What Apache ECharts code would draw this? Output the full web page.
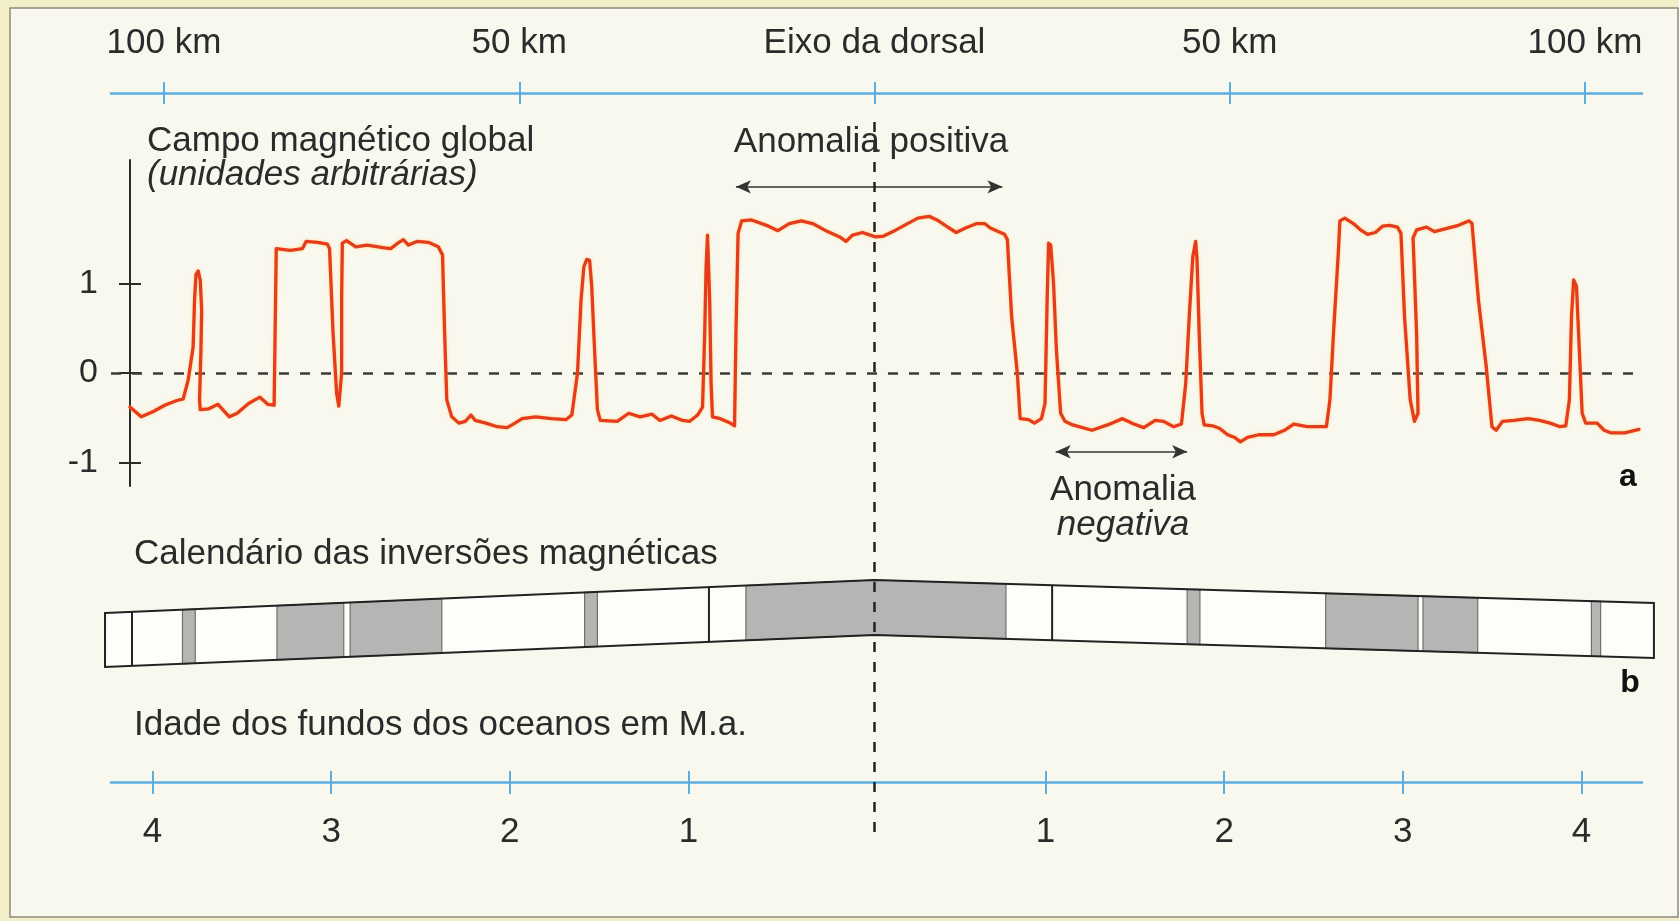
<!DOCTYPE html>
<html>
<head>
<meta charset="utf-8">
<title>Anomalias magnéticas da dorsal</title>
<script src="https://cdn.jsdelivr.net/npm/echarts@6.0.0/dist/echarts.min.js"></script>
<style>
  html, body { margin: 0; padding: 0; background: #f3f0c9; }
  #chart { width: 1679px; height: 921px; }
</style>
</head>
<body>
<div id="chart"></div>
<script>
// perfil do campo magnético: distância ao eixo (km) e valor (unidades arbitrárias)
const profileKm = [
  -104.8, -103.2, -101.5, -99.9, -98.3, -97.3, -96.6, -95.9, -95.7, -95.5, -95.2, -94.9, -94.7, -94.8, -95.0, -94.9,
  -93.7, -92.4, -90.8, -89.7, -88.1, -86.5, -85.4, -84.5,
  -84.2, -82.2, -80.5, -80.0, -78.4, -77.0, -76.7, -76.2, -75.7, -75.4, -75.0, -75.0, -74.9,
  -74.3, -73.0, -71.4, -69.2, -68.1, -67.1, -66.3, -65.6, -64.4, -62.8, -61.4, -60.8, -60.5, -60.2,
  -59.5, -58.5, -57.6, -56.8, -56.2, -54.7, -53.1, -51.7, -50.6, -49.6, -47.7, -45.5, -43.4, -42.6,
  -41.8, -41.3, -40.9, -40.5, -40.1, -39.8, -39.4, -39.0, -38.6,
  -36.2, -34.6, -33.0, -31.3, -30.2, -28.6, -27.0, -26.0, -24.9, -24.2,
  -23.9, -23.7, -23.5, -23.3, -23.2, -23.0, -22.8, -21.7, -20.3, -19.7,
  -19.5, -19.2, -18.7, -17.3, -15.2, -13.6, -12.0, -10.3, -8.7, -6.6, -4.9, -4.0, -3.1, -1.7, -0.6,
  0.2, 1.3, 2.6, 4.2, 6.1, 7.7, 8.8, 10.1, 11.5, 12.8, 14.4, 15.5, 16.3, 17.4, 18.3, 18.7,
  19.3, 20.1, 20.5, 21.7, 22.5, 23.5, 24.0, 24.3, 24.5, 24.8, 25.2, 25.6, 26.2, 26.8,
  27.9, 30.6, 32.8, 34.9, 36.5, 37.9, 39.5, 40.7, 42.1, 43.2,
  43.8, 44.3, 44.8, 45.2, 45.4, 45.7, 46.1, 46.4, 47.6, 48.6, 49.7, 50.7, 51.5, 52.5, 54.1, 56.2,
  57.7, 59.0, 60.9, 63.6, 64.1, 64.6, 65.3, 65.5, 66.2, 67.4, 68.4, 69.4, 70.5, 71.5, 72.5, 73.6,
  74.1, 74.6, 75.4, 76.0, 76.5, 76.3, 75.8, 76.3, 77.7, 78.8, 80.3, 82.2, 83.7, 84.1,
  85.0, 86.1, 86.9, 87.5, 88.4, 90.0, 92.0, 93.6, 95.1, 96.5, 97.3,
  97.8, 98.1, 98.4, 98.8, 99.2, 99.6, 100.1, 101.7, 102.7, 103.7, 105.6, 107.6
];
const profileVal = [
  -0.38, -0.49, -0.43, -0.36, -0.31, -0.29, -0.08, 0.29, 0.82, 1.10, 1.14, 1.04, 0.70, 0.26, -0.30, -0.41,
  -0.40, -0.35, -0.49, -0.45, -0.34, -0.27, -0.35, -0.36,
  1.39, 1.37, 1.39, 1.47, 1.46, 1.44, 1.39, 0.44, -0.23, -0.37, 0.00, 0.82, 1.45,
  1.48, 1.41, 1.43, 1.40, 1.39, 1.45, 1.49, 1.43, 1.47, 1.46, 1.41, 1.32, 0.44, -0.30,
  -0.49, -0.56, -0.54, -0.47, -0.53, -0.56, -0.60, -0.61, -0.56, -0.51, -0.49, -0.51, -0.52, -0.47,
  0.00, 0.82, 1.19, 1.27, 1.26, 0.97, 0.26, -0.41, -0.53,
  -0.54, -0.45, -0.49, -0.46, -0.53, -0.48, -0.53, -0.54, -0.47, -0.38,
  0.44, 1.19, 1.54, 1.52, 0.82, -0.12, -0.49, -0.51, -0.56, -0.59,
  0.44, 1.56, 1.70, 1.71, 1.65, 1.59, 1.67, 1.70, 1.67, 1.58, 1.52, 1.47, 1.54, 1.57, 1.54,
  1.52, 1.53, 1.58, 1.65, 1.73, 1.75, 1.71, 1.64, 1.57, 1.62, 1.67, 1.67, 1.62, 1.58, 1.55, 1.49,
  0.63, 0.00, -0.51, -0.52, -0.56, -0.51, -0.34, 0.82, 1.45, 1.43, 1.00, 0.26, -0.45, -0.54,
  -0.58, -0.64, -0.58, -0.51, -0.57, -0.61, -0.53, -0.54, -0.60, -0.57,
  -0.12, 0.63, 1.30, 1.47, 1.26, 0.44, -0.45, -0.58, -0.59, -0.62, -0.69, -0.72, -0.77, -0.72, -0.69, -0.69,
  -0.64, -0.57, -0.60, -0.60, -0.30, 0.44, 1.37, 1.70, 1.73, 1.67, 1.60, 1.55, 1.57, 1.64, 1.65, 1.63,
  1.56, 0.63, -0.30, -0.54, -0.45, 0.44, 1.51, 1.60, 1.63, 1.58, 1.61, 1.65, 1.70, 1.67,
  0.82, 0.07, -0.60, -0.64, -0.54, -0.53, -0.51, -0.53, -0.56, -0.60, -0.59,
  -0.30, 0.63, 1.04, 0.97, 0.26, -0.45, -0.56, -0.56, -0.64, -0.67, -0.67, -0.63
];

// marcas dos eixos
const kmTicks = [-100, -50, 0, 50, 100];
const ageTicks = [-4, -3, -2, -1, 1, 2, 3, 4];
const fieldTicks = [-1, 0, 1];

// calendário das inversões: polaridade normal (cinzento), em km
const normalStart = [-97.4, -84.1, -73.8, -40.8, -18.1, 44.0, 63.5, 77.2, 100.9];
const normalEnd = [-95.6, -74.7, -60.9, -39.0, 18.5, 45.8, 76.5, 84.9, 102.2];
const bandDividers = [-104.5, -23.3, 25.0];
const bandExtent = [-108.3, 109.7];

// setas das anomalias (km)
const anomalyPos = [-19.5, 18.0];
const anomalyNeg = [25.5, 44.0];

// ---- layout
const CX = 874.5, PX = 7.105;           // eixo da dorsal e px por km
const AGE_CX = 867, PX_MA = 178.6;      // escala das idades, como desenhada
const LEFT = 111, RIGHT = 1642;
const kmMin = (LEFT - CX) / PX, kmMax = (RIGHT - CX) / PX;
const ageMin = (LEFT - AGE_CX) / PX_MA, ageMax = (RIGHT - AGE_CX) / PX_MA;
const bandLeft = 100, bandRight = 1659;
const ZERO_Y = 373, UNIT = 89.5, MAG_TOP = 160, MAG_BOT = 486;
const fieldMax = (ZERO_Y - MAG_TOP) / UNIT, fieldMin = (ZERO_Y - MAG_BOT) / UNIT;
const BLUE = '#5aaee0', INK = '#2b2b2b', RED = '#e63c1e';
const FONT = '"Liberation Sans", Arial, sans-serif';

// forma da faixa (desvio em px a partir do topo da grelha)
const bandTop = [43, 10, 33], bandBottom = [97, 65, 88];
function bandEdge(x, e) {
  if (x <= 0) return e[1] + (e[0] - e[1]) * (x / bandExtent[0]);
  return e[1] + (e[2] - e[1]) * (x / bandExtent[1]);
}
function bandPoints(api, x0, x1) {
  const xs = [x0];
  if (x0 < 0 && x1 > 0) xs.push(0);
  xs.push(x1);
  const top = xs.map(x => api.coord([x, bandEdge(x, bandTop)]));
  const bot = xs.slice().reverse().map(x => api.coord([x, bandEdge(x, bandBottom)]));
  return top.concat(bot);
}

const hiddenX = (g, min, max) => ({ gridIndex: g, type: 'value', min, max, show: false });
const hiddenY = (g, min, max, inverse) => ({ gridIndex: g, type: 'value', min, max, inverse: !!inverse, show: false });

function text(x, y, s, extra) {
  return {
    type: 'text', x, y, z: 100, silent: true,
    style: Object.assign({ text: s, fill: INK, font: '35px ' + FONT, align: 'left', verticalAlign: 'middle' }, extra || {})
  };
}

let myChart = echarts.init(document.getElementById('chart'));
let option = {
  animation: false,
  backgroundColor: '#f3f0c9',
  textStyle: { fontFamily: FONT },
  grid: [
    { left: LEFT, right: 1679 - RIGHT, top: 93, height: 10 },
    { left: LEFT, right: 1679 - RIGHT, top: MAG_TOP, height: MAG_BOT - MAG_TOP },
    { left: bandLeft, right: 1679 - bandRight, top: 570, height: 100 },
    { left: LEFT, right: 1679 - RIGHT, top: 700, height: 82 },
    { left: LEFT, right: 1679 - RIGHT, top: 115, height: 717 }
  ],
  xAxis: [
    {
      gridIndex: 0, type: 'value', min: kmMin, max: kmMax, position: 'top',
      axisLine: { onZero: false, lineStyle: { color: BLUE, width: 2.5 } },
      axisTick: { customValues: kmTicks, length: 11, lineStyle: { color: BLUE, width: 2 } },
      axisLabel: {
        customValues: kmTicks, margin: 32, fontSize: 35, lineHeight: 35, color: INK,
        formatter: v => v === 0 ? 'Eixo da dorsal' : Math.abs(v) + ' km'
      },
      splitLine: { show: false }
    },
    {
      gridIndex: 0, type: 'value', min: kmMin, max: kmMax, position: 'top',
      axisLine: { show: false, onZero: false },
      axisTick: { customValues: kmTicks, inside: true, length: 11, lineStyle: { color: BLUE, width: 2 } },
      axisLabel: { show: false }, splitLine: { show: false }
    },
    hiddenX(1, kmMin, kmMax),
    hiddenX(2, (bandLeft - CX) / PX, (bandRight - CX) / PX),
    {
      gridIndex: 3, type: 'value', min: ageMin, max: ageMax, position: 'bottom',
      axisLine: { onZero: false, lineStyle: { color: BLUE, width: 2.5 } },
      axisTick: { customValues: ageTicks, length: 12, lineStyle: { color: BLUE, width: 2 } },
      axisLabel: {
        customValues: ageTicks, margin: 33, fontSize: 35, lineHeight: 35, color: INK,
        formatter: v => String(Math.abs(v))
      },
      splitLine: { show: false }
    },
    {
      gridIndex: 3, type: 'value', min: ageMin, max: ageMax, position: 'bottom',
      axisLine: { show: false, onZero: false },
      axisTick: { customValues: ageTicks, inside: true, length: 11, lineStyle: { color: BLUE, width: 2 } },
      axisLabel: { show: false }, splitLine: { show: false }
    },
    hiddenX(4, kmMin, kmMax)
  ],
  yAxis: [
    hiddenY(0, 0, 1),
    {
      gridIndex: 1, type: 'value', min: fieldMin, max: fieldMax, position: 'left', offset: -19,
      axisLine: { show: true, onZero: false, lineStyle: { color: INK, width: 2 } },
      axisTick: { show: true, customValues: fieldTicks, length: 11, lineStyle: { color: INK, width: 2 } },
      axisLabel: { customValues: fieldTicks, margin: 32, fontSize: 34, color: INK },
      splitLine: { show: false }
    },
    {
      gridIndex: 1, type: 'value', min: fieldMin, max: fieldMax, position: 'left', offset: -19,
      axisLine: { show: false, onZero: false },
      axisTick: { show: true, inside: true, customValues: fieldTicks, length: 11, lineStyle: { color: INK, width: 2 } },
      axisLabel: { show: false }, splitLine: { show: false }
    },
    hiddenY(2, 0, 100, true),
    hiddenY(3, 0, 1),
    hiddenY(4, 0, 1)
  ],
  series: [
    {
      name: 'campo', type: 'line', xAxisIndex: 2, yAxisIndex: 1, z: 5,
      data: profileKm.map((k, i) => [k, profileVal[i]]),
      showSymbol: false, smooth: false, silent: true,
      lineStyle: { color: RED, width: 3.3, cap: 'round', join: 'round', shadowColor: 'rgba(255,190,40,0.55)', shadowBlur: 3 },
      markLine: {
        silent: true, symbol: 'none', label: { show: false }, animation: false,
        data: [
          { yAxis: 0, lineStyle: { type: [10, 11], color: '#3a3a3a', width: 2.5 } },
          [
            { coord: [anomalyPos[0], 2.08], symbol: 'arrow', symbolSize: [10, 15], lineStyle: { type: 'solid', color: '#333', width: 1.5 } },
            { coord: [anomalyPos[1], 2.08], symbol: 'arrow', symbolSize: [10, 15] }
          ],
          [
            { coord: [anomalyNeg[0], -0.88], symbol: 'arrow', symbolSize: [10, 15], lineStyle: { type: 'solid', color: '#333', width: 1.5 } },
            { coord: [anomalyNeg[1], -0.88], symbol: 'arrow', symbolSize: [10, 15] }
          ]
        ]
      }
    },
    {
      name: 'faixa', type: 'custom', xAxisIndex: 3, yAxisIndex: 3, z: 1, silent: true,
      data: [bandExtent],
      renderItem: (params, api) => ({
        type: 'polygon', shape: { points: bandPoints(api, api.value(0), api.value(1)) },
        style: { fill: '#fdfdfa', stroke: null }
      })
    },
    {
      name: 'normal', type: 'custom', xAxisIndex: 3, yAxisIndex: 3, z: 2, silent: true,
      data: normalStart.map((s, i) => [s, normalEnd[i]]),
      renderItem: (params, api) => ({
        type: 'polygon', shape: { points: bandPoints(api, api.value(0), api.value(1)) },
        style: { fill: '#b5b5b3', stroke: '#6f6f6f', lineWidth: 1.2 }
      })
    },
    {
      name: 'divisões', type: 'custom', xAxisIndex: 3, yAxisIndex: 3, z: 3, silent: true,
      data: bandDividers.map(d => [d]),
      renderItem: (params, api) => {
        const x = api.value(0);
        const a = api.coord([x, bandEdge(x, bandTop)]);
        const b = api.coord([x, bandEdge(x, bandBottom)]);
        return { type: 'line', shape: { x1: a[0], y1: a[1], x2: b[0], y2: b[1] }, style: { stroke: '#222', lineWidth: 2 } };
      }
    },
    {
      name: 'contorno', type: 'custom', xAxisIndex: 3, yAxisIndex: 3, z: 4, silent: true,
      data: [bandExtent],
      renderItem: (params, api) => ({
        type: 'polygon', shape: { points: bandPoints(api, api.value(0), api.value(1)) },
        style: { fill: 'none', stroke: '#222', lineWidth: 2 }
      })
    },
    {
      name: 'eixo', type: 'line', xAxisIndex: 6, yAxisIndex: 5, z: 10, silent: true,
      data: [[0, 0], [0, 1]], showSymbol: false,
      lineStyle: { color: '#222', width: 2.5, type: [10, 10] }
    }
  ],
  graphic: [
    { type: 'rect', z: -10, silent: true, shape: { x: 10, y: 8, width: 1668, height: 909 },
      style: { fill: '#f9f8ef', stroke: '#8d8b7c', lineWidth: 1.5 } },
    text(147, 141, 'Campo magnético global'),
    text(147, 175, '(unidades arbitrárias)', { font: 'italic 35px ' + FONT }),
    text(871, 142, 'Anomalia positiva', { align: 'center' }),
    text(1123, 490, 'Anomalia', { align: 'center' }),
    text(1123, 525, 'negativa', { align: 'center', font: 'italic 35px ' + FONT }),
    text(1628, 477, 'a', { align: 'center', font: 'bold 32px ' + FONT, fill: '#111' }),
    text(134, 554, 'Calendário das inversões magnéticas'),
    text(1630, 683, 'b', { align: 'center', font: 'bold 32px ' + FONT, fill: '#111' }),
    text(134, 725, 'Idade dos fundos dos oceanos em M.a.')
  ]
};
myChart.setOption(option);
</script>
</body>
</html>
